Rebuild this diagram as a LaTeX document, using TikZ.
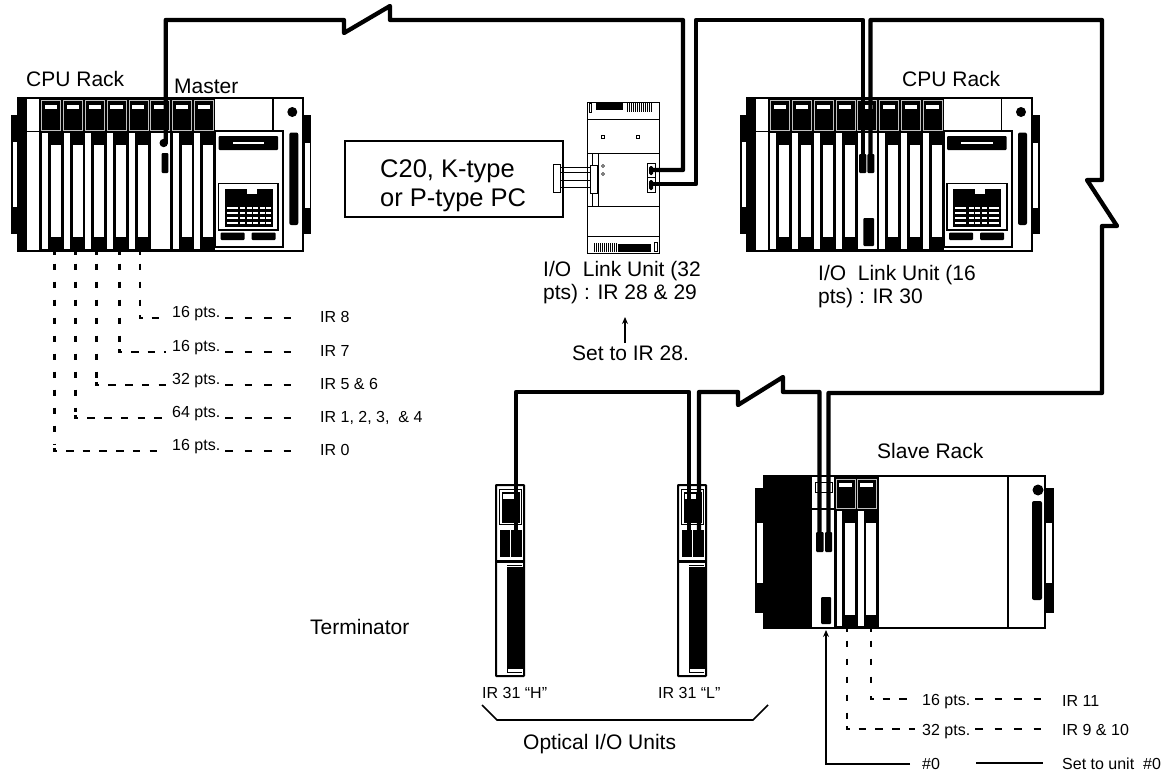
\documentclass[tikz,border=0pt]{standalone}
\usepackage{fontspec}
\setmainfont{Liberation Sans}
\usetikzlibrary{arrows.meta}
\tikzset{
  cable/.style={line width=4.3pt,line join=round,line cap=round},
  frame line/.style={line width=1.7pt},
  big/.style={anchor=base west,inner sep=0pt,font=\fontsize{21}{21}\selectfont},
  small/.style={anchor=base west,inner sep=0pt,font=\fontsize{16}{16}\selectfont},
  huge label/.style={anchor=base west,inner sep=0pt,font=\fontsize{25.5}{25.5}\selectfont},
  vdash/.style={line width=2.5pt,dash pattern=on 6.5pt off 11.5pt,dash phase=6.5pt},
  hdash/.style={line width=2.3pt,dash pattern=on 7.5pt off 12pt},
  hdashl/.style={line width=2.3pt,dash pattern=on 7.5pt off 9.2pt,dash phase=7.5pt},
  tick/.style={line width=2.5pt},
  notearrow/.style={line width=1.8pt,-{Stealth[length=7pt,width=6pt]}}
}
% full rack: #1 x-shift, #2 index of the link slot
\newcommand{\fullrack}[2]{%
\begin{scope}[xshift=#1pt]
  % ears
  \fill (11,115) rectangle (18,234);
  \fill[white] (13,142) rectangle (18,207);
  \fill (303,115) rectangle (311,234);
  \fill[white] (304.5,143) rectangle (309.5,208);
  % frame
  \fill[white] (18,98) rectangle (303,251);
  \fill (18,98) rectangle (27,251);
  \fill (39,98) rectangle (215,251);
  \draw[frame line] (18,98) rectangle (303,251);
  \draw[frame line] (27,131.5) -- (39,131.5);
  \foreach \i in {0,...,7}{
    \pgfmathsetmacro{\xa}{41.7+21.8*\i}
    \draw[white!75!black,line width=.6pt] (\xa,100.5) rectangle ({\xa+19},130);
    \fill[white] ({\xa+3.3},105) rectangle ({\xa+15.5},109);
    \ifnum\i=#2\relax
      \fill[white] (\xa,133) rectangle ({\xa+19.3},249);
    \else
      \fill[white] (\xa,133) rectangle ({\xa+6},249);
      \fill[white] ({\xa+9},145) rectangle ({\xa+19},237);
    \fi
  }
  \fill[white] (27,133) rectangle (39,249);
  % power unit
  \draw[frame line,fill=white] (215,131) rectangle (283,247);
  \draw[frame line] (272.7,98) -- (272.7,131);
  \fill[rounded corners=1pt] (218.5,136) rectangle (278,150);
  \fill[white] (232.5,141.8) rectangle (264,144.3);
  \draw[frame line] (218.5,183.5) rectangle (278,230);
  \fill (224.5,188.5) rectangle (272.5,226.5);
  \fill[white] (246.5,188.5) rectangle (256.5,193.5);
  \foreach \yy in {206.5,212,217,222}{
    \fill[white] (226.5,\yy) rectangle (237.5,{\yy+2.3});
    \foreach \xx in {240,246.7,253.4,260,265.7}
      \fill[white] (\xx,\yy) rectangle ({\xx+4.8},{\yy+2.3});
  }
  \fill[rounded corners=1pt] (220.5,232.5) rectangle (244.5,240);
  \fill[rounded corners=1pt] (251.5,232.5) rectangle (275.5,240);
  % status lamp and vertical bar
  \fill (292.3,112) circle (5);
  \fill[rounded corners=2pt] (289.3,132.5) rectangle (298.3,225);
\end{scope}}
% optical unit: #1 x-shift
\newcommand{\opticalunit}[1]{%
\begin{scope}[xshift=#1pt]
  \draw[line width=2pt,fill=white,rounded corners=.5pt] (496,485) rectangle (524,676);
  \draw[line width=.8pt] (499.5,489.5) rectangle (521.5,524);
  \fill (501.5,491.5) rectangle (519.5,523);
  \fill[white] (503,493.5) rectangle (513.5,499);
  \fill (500,530) rectangle (509.5,556.5);
  \fill (511,530) rectangle (522,556.5);
  \fill (496,560) rectangle (524,563);
  \fill (507,567) rectangle (524,669);
  \draw[line width=.8pt] (507,565) -- (522,565) (507,669) -- (507,672) -- (522,672);
\end{scope}}
\begin{document}
\begin{tikzpicture}[x=1pt,y=-1pt]
\useasboundingbox (0,0) rectangle (1165,776);
\fill[white] (0,0) rectangle (1165,776);

% ---- racks
\fullrack{0}{5}
\fullrack{728.7}{4}

% left rack, master unit details
\coordinate (masterknob) at (165.7,143);
\fill (163.7,143) circle (4.2);
\fill[rounded corners=1pt] (161.7,153) rectangle (168.3,173);
% right rack, link unit details
\coordinate (rightA) at (863,165);
\coordinate (rightB) at (870.5,165);
\fill[rounded corners=1pt] (859,154) rectangle (866.3,173);
\fill[rounded corners=1pt] (867.3,154) rectangle (874.3,173);
\fill[rounded corners=1pt] (863.3,218) rectangle (874,246);

% ---- I/O link unit (32 pts)
\draw[frame line,fill=white] (345,141) rectangle (563,217);
\draw[line width=.8pt,fill=white] (587,102) rectangle (659,253);
\foreach \yy in {119,153,206,236} \draw[line width=.8pt] (587,\yy) -- (659,\yy);
\draw[line width=.8pt] (592,153) -- (592,206) (598,153) -- (598,206);
\draw[line width=.8pt] (589,103.5) rectangle (591.5,112);
\fill (596,102) rectangle (623,110);
\foreach \xx in {627,629,...,651} \draw[line width=1pt] (\xx,103) -- (\xx,112);
\foreach \xx in {594,596,...,616} \draw[line width=1pt] (\xx,243) -- (\xx,252);
\fill (618,243.5) rectangle (651,252);
\draw[line width=.8pt] (654,242) rectangle (657.5,251);
\draw[line width=.8pt] (601.5,135.5) rectangle +(3,3);
\draw[line width=.8pt] (636.5,135.5) rectangle +(3,3);
\draw[line width=.6pt] (603,166) circle (1.5) (603,174) circle (1.5);
\draw[line width=.8pt,fill=white] (553,164) rectangle (560,192);
\draw[line width=.8pt,fill=white] (590,165) rectangle (597,193);
\foreach \yy in {167,172.5,180,187} \draw[line width=1pt] (560,\yy) -- (590,\yy);
\draw[line width=.8pt,fill=white] (647,163) rectangle (655,192);
\draw[line width=.8pt] (647,177.5) -- (655,177.5);
\fill[rounded corners=1.5pt] (649,166) rectangle (653,175);
\fill[rounded corners=1.5pt] (649,180) rectangle (653,190);
\coordinate (unitA) at (651,170);
\coordinate (unitB) at (651,184);

% ---- slave rack
\fill (755,488) rectangle (764,613);
\fill[white] (757,523) rectangle (763,583);
\fill (1045,488) rectangle (1054,613);
\fill[white] (1046,523) rectangle (1052,583);
\fill[white] (764,476) rectangle (1045,628);
\fill (764,476) rectangle (812,628);
\draw[frame line] (764,476) rectangle (1045,628);
\fill (834,476) rectangle (878.5,628);
\draw[frame line] (812,509) -- (834,509);
\draw[line width=.8pt] (815,482) rectangle (832,492);
\foreach \xa in {836,857.5}{
  \draw[white!75!black,line width=.6pt] (\xa,479) rectangle ({\xa+19},508);
  \fill[white] ({\xa+2.5},482.5) rectangle ({\xa+15.5},486.5);
  \fill[white] (\xa,511) rectangle ({\xa+6},626);
  \fill[white] ({\xa+8.5},523) rectangle ({\xa+18.5},615);
}
\draw[frame line] (836,628) -- (836,511);
\draw[frame line] (1008,476) -- (1008,628);
\fill[rounded corners=1pt] (816,532) rectangle (823.5,552);
\fill[rounded corners=1pt] (825,532) rectangle (832,552);
\fill[rounded corners=1pt] (821,597) rectangle (831,624);
\fill (1038,490) circle (5.5);
\fill[rounded corners=2pt] (1032,501) rectangle (1042,600);
\coordinate (slaveA) at (819.5,540);
\coordinate (slaveB) at (828.5,540);
\coordinate (slaveSw) at (826,630);

% ---- optical units
\opticalunit{0}
\opticalunit{182}
\coordinate (optH) at (516,530);
\coordinate (optLa) at (689,530);
\coordinate (optLb) at (699,530);

% ---- cables
\draw[cable] (masterknob) -- (165.7,20) -- (344,20) -- (344,33) -- (390,6) -- (390,20) -- (683,20) -- (683,170) -- (unitA);
\draw[cable] (unitB) -- (696,184) -- (696,20) -- (863,20) -- (rightA);
\draw[cable] (rightB) -- (870.5,20) -- (1102,20) -- (1102,180) -- (1087,180) -- (1117,226) -- (1102,226) -- (1102,393) -- (828.5,393) -- (slaveB);
\draw[cable] (optH) -- (516,392) -- (689,392) -- (optLa);
\draw[cable] (optLb) -- (699,392) -- (738,392) -- (738,405) -- (783,377) -- (783,392) -- (819.5,392) -- (slaveA);

% ---- texts
\node[big] (cpuL) at (26,87) {CPU Rack};
\node[big] (master) at (174,94) {Master};
\node[big] (cpuR) at (902,87) {CPU Rack};
\node[huge label] (pcA) at (380,177) {C20, K-type};
\node[huge label] (pcB) at (380,206) {or P-type PC};
\node[big] (lkA) at (543,276) {I/O\ \ Link Unit (32};
\node[big] (lkB) at (543,299) {pts) : IR 28 \& 29};
\node[big] (lkC) at (818,280) {I/O\ \ Link Unit (16};
\node[big] (lkD) at (818,303) {pts) : IR 30};
\node[big] (setto) at (572,360) {Set to IR 28.};
\coordinate (settoTip) at (625,317);
\coordinate (settoEnd) at (625,343);
\draw[notearrow] (settoEnd) -- (settoTip);
\node[big] (slave) at (877,458) {Slave Rack};
\node[big] (term) at (310,634) {Terminator};
\node[big] (optical) at (523,749) {Optical I/O Units};
\node[small] (irH) at (482,698) {IR 31 “H”};
\node[small] (irL) at (658,698) {IR 31 “L”};

\coordinate (brA) at (482,705);
\coordinate (brB) at (768,705);
\draw[line width=1.6pt] (brA) -- (497,720) -- (753,720) -- (brB);

% ---- left dashed lines
\foreach \xx/\yy/\pts/\ir/\nm in {140/318/16 pts./IR 8/a,119.3/352/16 pts./IR 7/b,96.7/385/32 pts./{IR 5 \& 6}/c,75.7/418/64 pts./{IR 1, 2, 3,\ \ \& 4}/d,54.3/451/16 pts./IR 0/e}{
  \coordinate (dv\nm) at (\xx,252);
  \coordinate (dc\nm) at (\xx,\yy);
  \coordinate (ds\nm) at ({\xx+2.5},\yy);
  \coordinate (de\nm) at (166,\yy);
  \node[small] (pt\nm) at (172,{\yy-1}) {\pts};
  \node[small] (ir\nm) at (320,{\yy+4}) {\ir};
  \draw[tick] (dv\nm) -- +(0,2.5);
  \draw[vdash] (dv\nm) -- ({\xx},{\yy-6});
  \draw[tick] ({\xx},{\yy-3}) -- (dc\nm) -- (ds\nm);
  \draw[hdashl] (ds\nm) -- (de\nm);
  \draw[hdash] (225,\yy) -- (292,\yy);
}

% ---- slave dashed lines
\coordinate (sva) at (871,629);
\coordinate (svb) at (847,629);
\coordinate (sca) at (871,699);
\coordinate (scb) at (847,729);
\draw[tick] (sva) -- +(0,2.5);
\draw[tick] (svb) -- +(0,2.5);
\draw[vdash] (sva) -- (871,693);
\draw[vdash] (svb) -- (847,723);
\draw[tick] (871,696) -- (sca) -- (873.5,699);
\draw[tick] (847,726) -- (scb) -- (849.5,729);
\draw[hdashl] (873.5,699) -- (915,699);
\draw[hdashl] (849.5,729) -- (915,729);
\draw[hdash] (975,699) -- (1043,699);
\draw[hdash] (975,729) -- (1043,729);
\node[small] (p16) at (922,705) {16 pts.};
\node[small] (p32) at (922,735) {32 pts.};
\node[small] (i11) at (1062,706) {IR 11};
\node[small] (i9) at (1062,735) {IR 9 \& 10};
\node[small] (n0) at (922,769) {\#0};
\node[small] (su) at (1062,769) {Set to unit\ \ \#0};
\coordinate (swc) at (826,764);
\draw[notearrow,line join=miter] (910,764) -- (swc) -- (slaveSw);
\draw[line width=1.9pt] (976,763) -- (1043,763);
\end{tikzpicture}
\end{document}
